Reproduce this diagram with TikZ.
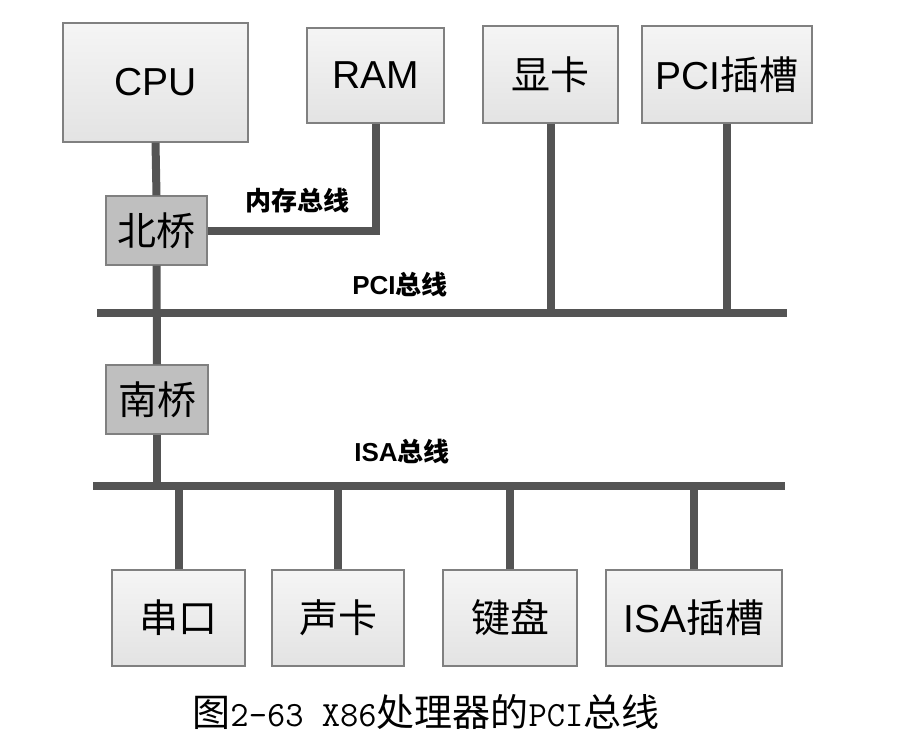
\documentclass[tikz,border=0pt]{standalone}
\usepackage{fontspec}
\setmainfont{Liberation Sans}
\newfontfamily\cjk{Noto Sans CJK SC}
\begin{document}
\begin{tikzpicture}[x=1pt,y=-1pt,
  box/.style={draw=black!50, line width=1.3pt, top color=black!4, bottom color=black!11, inner sep=0pt, font=\fontsize{39}{39}\selectfont},
  bridge/.style={draw=black!50, line width=1.3pt, fill=black!25, inner sep=0pt, font=\fontsize{39}{39}\selectfont\cjk},
  bus/.style={draw=black!67, line width=8pt},
  lbl/.style={font=\fontsize{26}{26}\selectfont\bfseries, inner sep=0pt}]
\useasboundingbox (0,0) rectangle (923,746);
% bus end points
\coordinate (pcil) at (97,313);
\coordinate (pcir) at (787,313);
\coordinate (isal) at (93,486);
\coordinate (isar) at (785,486);
% boxes
\node[box, minimum width=185pt, minimum height=119pt] (cpu) at (155.5,82.5) {CPU};
\node[box, minimum width=137pt, minimum height=95pt] (ram) at (375.5,75.5) {RAM};
\node[box, minimum width=135pt, minimum height=97pt] (gpu) at (550.5,74.5) {\cjk 显卡};
\node[box, minimum width=170pt, minimum height=97pt] (pcis) at (727,74.5) {PCI{\cjk 插槽}};
\node[bridge, minimum width=101pt, minimum height=69pt] (nb) at (156.5,230.5) {北桥};
\node[bridge, minimum width=102pt, minimum height=69pt] (sb) at (157,399.5) {南桥};
\node[box, minimum width=133pt, minimum height=96pt] (com) at (178.5,618) {\cjk 串口};
\node[box, minimum width=132pt, minimum height=96pt] (snd) at (338,618) {\cjk 声卡};
\node[box, minimum width=134pt, minimum height=96pt] (kbd) at (510,618) {\cjk 键盘};
\node[box, minimum width=176pt, minimum height=96pt] (isas) at (694,618) {ISA{\cjk 插槽}};
% buses and connectors
\draw[bus] (pcil) -- (pcir);
\draw[bus] (isal) -- (isar);
\draw[bus] (cpu.south) -- (nb.north);
\draw[bus] (nb.south) -- (sb.north);
\draw[bus] (sb.south) -- (sb.south |- isal);
\draw[bus] (nb.east) -| (ram.south);
\draw[bus] (gpu.south) -- (gpu.south |- pcil);
\draw[bus] (pcis.south) -- (pcis.south |- pcil);
\draw[bus] (com.north) -- (com.north |- isal);
\draw[bus] (snd.north) -- (snd.north |- isal);
\draw[bus] (kbd.north) -- (kbd.north |- isal);
\draw[bus] (isas.north) -- (isas.north |- isal);
% labels
\node[lbl] (memlbl) at (297,201) {\cjk\bfseries 内存总线};
\node[lbl] (pcilbl) at (400,285) {PCI{\cjk\bfseries 总线}};
\node[lbl] (isalbl) at (402,452) {ISA{\cjk\bfseries 总线}};
% caption
\node[inner sep=0pt, font=\fontsize{38}{38}\selectfont] (cap) at (426,712) {{\cjk 图}{\ttfamily\fontsize{35.5}{38}\selectfont 2-63 X86}{\cjk 处理器的}{\ttfamily\fontsize{35.5}{38}\selectfont PCI}{\cjk 总线}};
\end{tikzpicture}
\end{document}
